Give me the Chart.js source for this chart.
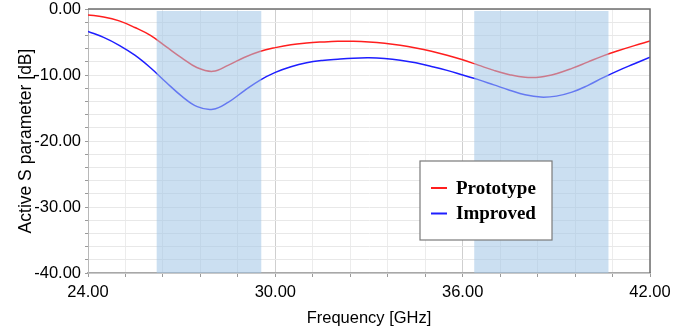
<!DOCTYPE html>
<html>
<head>
<meta charset="utf-8">
<script src="https://cdn.jsdelivr.net/npm/chart.js@4.4.1/dist/chart.umd.min.js"></script>
<style>
    html, body { margin: 0; padding: 0; background: #fff; }
    #wrap { width: 694px; height: 333px; }
</style>
</head>
<body>
<div id="wrap"><canvas id="chart-area"></canvas></div>
<script>
    'use strict';

    // frequency points [GHz]
    var freq = [24, 24.5, 25, 25.5, 26, 26.5, 27, 27.5, 28, 28.5, 29, 29.5, 30, 30.5, 31, 31.5, 32, 32.5,
                33, 33.5, 34, 34.5, 35, 35.5, 36, 36.5, 37, 37.5, 38, 38.5, 39, 39.5, 40, 40.5, 41, 41.5, 42];

    var prototypeDb = [-0.9, -1.2, -1.8, -2.8, -4.0, -5.7, -7.4, -8.9, -9.45, -8.5, -7.35, -6.45, -5.85,
                       -5.4, -5.15, -5.0, -4.9, -4.9, -5.0, -5.2, -5.5, -5.9, -6.4, -7.0, -7.7, -8.5,
                       -9.3, -9.95, -10.35, -10.3, -9.8, -9.0, -8.05, -7.1, -6.3, -5.55, -4.85];

    var improvedDb = [-3.4, -4.3, -5.5, -7.0, -8.9, -11.1, -13.2, -14.8, -15.2, -14.1, -12.4, -10.8, -9.6,
                      -8.75, -8.15, -7.8, -7.6, -7.45, -7.4, -7.5, -7.75, -8.15, -8.7, -9.3, -10.0, -10.7,
                      -11.5, -12.3, -13.0, -13.35, -13.2, -12.6, -11.6, -10.4, -9.3, -8.3, -7.3];

    var seriesLabels = ['Prototype', 'Improved'];
    var seriesColors = ['#ff1e1e', '#1e1eff'];

    // shaded bands [GHz]
    var bandStart = [26.2, 36.37];
    var bandEnd = [29.55, 40.67];

    var xTickLabels = [24, 30, 36, 42];
    var yTickLabels = [0, -10, -20, -30, -40];

    function toPoints(ys) {
        var pts = [];
        for (var i = 0; i < freq.length; i++) {
            pts.push({ x: freq[i], y: ys[i] });
        }
        return pts;
    }

    function isLabel(v, list) {
        for (var i = 0; i < list.length; i++) {
            if (Math.abs(v - list[i]) < 1e-6) return true;
        }
        return false;
    }

    var bandsPlugin = {
        id: 'bands',
        afterDatasetsDraw: function (chart) {
            var ctx = chart.ctx, ca = chart.chartArea, xs = chart.scales.x;
            ctx.save();
            ctx.fillStyle = 'rgba(160,196,230,0.55)';
            for (var i = 0; i < bandStart.length; i++) {
                var x0 = xs.getPixelForValue(bandStart[i]);
                var x1 = xs.getPixelForValue(bandEnd[i]);
                ctx.fillRect(x0, ca.top + 2, x1 - x0, ca.bottom - ca.top - 2);
            }
            // top and right frame
            ctx.strokeStyle = '#6e6e6e';
            ctx.lineWidth = 1.5;
            ctx.beginPath();
            ctx.moveTo(ca.left, ca.top);
            ctx.lineTo(ca.right, ca.top);
            ctx.lineTo(ca.right, ca.bottom);
            ctx.stroke();
            ctx.restore();
        },
        afterDraw: function (chart) {
            // legend box
            var ctx = chart.ctx, ca = chart.chartArea;
            var left = ca.left + 332, top = ca.top + 152, w = 132, h = 79;
            ctx.save();
            ctx.fillStyle = '#ffffff';
            ctx.fillRect(left, top, w, h);
            ctx.strokeStyle = '#7a7a7a';
            ctx.lineWidth = 1.2;
            ctx.strokeRect(left, top, w, h);
            ctx.font = 'bold 19px "Liberation Serif", "Times New Roman", serif';
            ctx.textBaseline = 'middle';
            for (var i = 0; i < seriesLabels.length; i++) {
                var y = top + 27 + i * 25.5;
                ctx.strokeStyle = seriesColors[i];
                ctx.lineWidth = 2;
                ctx.beginPath();
                ctx.moveTo(left + 11, y);
                ctx.lineTo(left + 27, y);
                ctx.stroke();
                ctx.fillStyle = '#000';
                ctx.fillText(seriesLabels[i], left + 36, y + 1);
            }
            ctx.restore();
        }
    };

    var tickFont = { family: 'Liberation Sans, Arial, sans-serif', size: 16.5 };

    new Chart(document.getElementById('chart-area').getContext('2d'), {
        type: 'line',
        data: {
            datasets: [
                {
                    label: seriesLabels[0],
                    data: toPoints(prototypeDb),
                    borderColor: seriesColors[0],
                    borderWidth: 1.5,
                    pointRadius: 0,
                    fill: false,
                    tension: 0.4
                },
                {
                    label: seriesLabels[1],
                    data: toPoints(improvedDb),
                    borderColor: seriesColors[1],
                    borderWidth: 1.5,
                    pointRadius: 0,
                    fill: false,
                    tension: 0.4
                }
            ]
        },
        options: {
            responsive: true,
            maintainAspectRatio: false,
            animation: false,
            layout: { padding: { left: 12, right: 44, top: 9, bottom: 1 } },
            plugins: {
                legend: { display: false },
                tooltip: { enabled: false }
            },
            scales: {
                x: {
                    type: 'linear',
                    min: 24,
                    max: 42,
                    afterBuildTicks: function (scale) {
                        var t = [];
                        for (var k = 0; k <= 15; k++) t.push({ value: Math.round((24 + k * 1.2) * 100) / 100 });
                        scale.ticks = t;
                    },
                    afterFit: function (scale) { scale.height = 59; },
                    ticks: {
                        autoSkip: false,
                        maxRotation: 0,
                        padding: 6,
                        color: '#000',
                        font: tickFont,
                        callback: function (v) { return isLabel(v, xTickLabels) ? v.toFixed(2) : ''; }
                    },
                    grid: {
                        color: function (c) {
                            return isLabel(c.tick.value, [30, 36]) ? '#cfcfcf' : '#ececec';
                        },
                        tickColor: '#9a9a9a',
                        tickLength: 4,
                        lineWidth: 1
                    },
                    border: { color: '#a8a8a8', width: 1.5 },
                    title: {
                        display: true,
                        text: 'Frequency [GHz]',
                        color: '#000',
                        font: { family: 'Liberation Sans, Arial, sans-serif', size: 16.5 },
                        padding: { top: 2, bottom: 4 }
                    }
                },
                y: {
                    min: -40,
                    max: 0,
                    afterBuildTicks: function (scale) {
                        var t = [];
                        for (var k = 0; k <= 20; k++) t.push({ value: -40 + k * 2 });
                        scale.ticks = t;
                    },
                    afterFit: function (scale) {
                        scale.width = 76;
                        scale.paddingTop = 0;
                        scale.paddingBottom = 0;
                    },
                    ticks: {
                        autoSkip: false,
                        padding: 4,
                        color: '#000',
                        font: tickFont,
                        callback: function (v) { return isLabel(v, yTickLabels) ? v.toFixed(2) : ''; }
                    },
                    grid: {
                        color: '#e8e8e8',
                        tickColor: '#9a9a9a',
                        tickLength: 3,
                        lineWidth: 1
                    },
                    border: { color: '#b8b8b8', width: 1 },
                    title: {
                        display: true,
                        text: 'Active S parameter [dB]',
                        color: '#000',
                        font: { family: 'Liberation Sans, Arial, sans-serif', size: 17.5 },
                        padding: { top: 4, bottom: 4 }
                    }
                }
            }
        },
        plugins: [bandsPlugin]
    });
</script>
</body>
</html>
